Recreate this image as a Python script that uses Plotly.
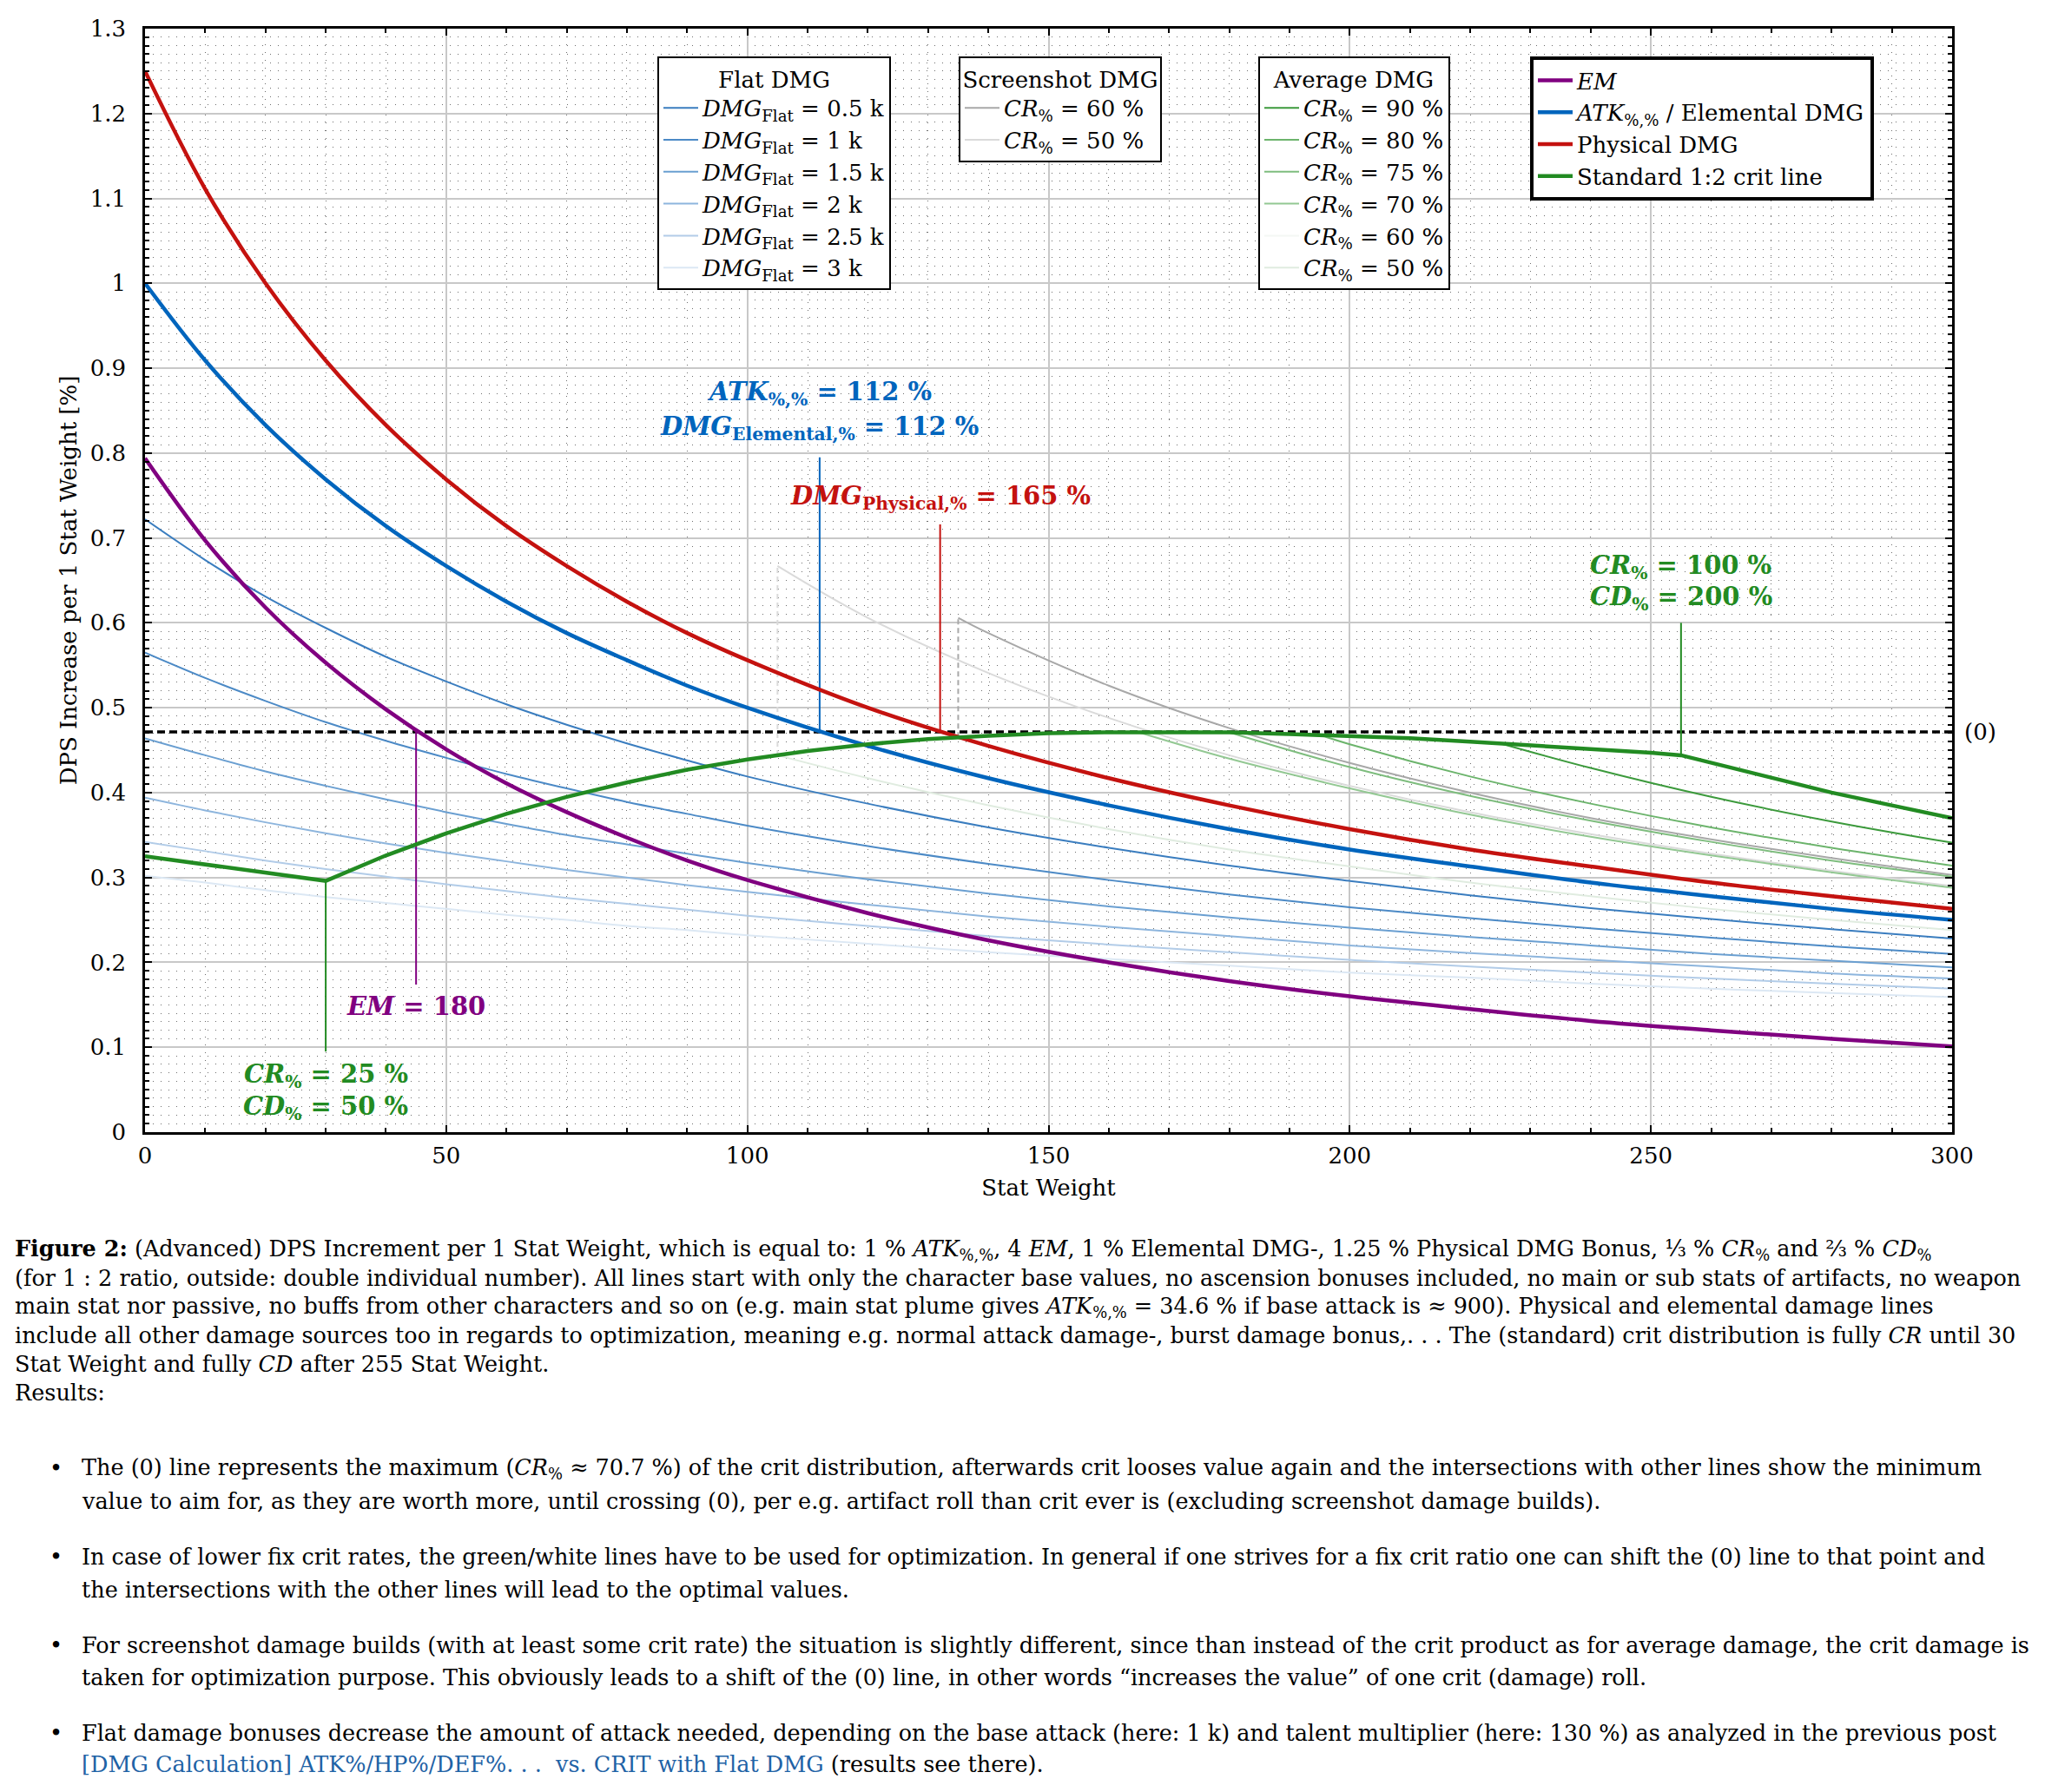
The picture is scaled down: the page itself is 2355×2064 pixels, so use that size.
import plotly.graph_objects as go

FONT = "DejaVu Serif"

# ---------------- data ----------------
stat_weight = [0, 10, 20, 30, 40, 50, 60, 70, 80, 90, 100, 120, 140, 160, 180, 200, 220, 240, 260, 280, 300]

em_vals = [0.794, 0.697, 0.618, 0.553, 0.498, 0.451, 0.411, 0.377, 0.347, 0.320, 0.297,
           0.258, 0.226, 0.200, 0.178, 0.160, 0.145, 0.131, 0.120, 0.110, 0.101]
atk_vals = [1.000, 0.909, 0.833, 0.769, 0.714, 0.667, 0.625, 0.588, 0.556, 0.526, 0.500,
            0.455, 0.417, 0.385, 0.357, 0.333, 0.313, 0.294, 0.278, 0.263, 0.250]
phys_vals = [1.250, 1.111, 1.000, 0.909, 0.833, 0.769, 0.714, 0.667, 0.625, 0.588, 0.556,
             0.500, 0.455, 0.417, 0.385, 0.357, 0.333, 0.313, 0.294, 0.278, 0.263]

flat_05k = [0.722, 0.674, 0.631, 0.594, 0.560, 0.531, 0.504, 0.480, 0.458, 0.438, 0.419,
            0.387, 0.359, 0.335, 0.314, 0.296, 0.279, 0.264, 0.251, 0.239, 0.228]
flat_1k = [0.565, 0.535, 0.508, 0.483, 0.461, 0.441, 0.422, 0.405, 0.389, 0.375, 0.361,
           0.337, 0.316, 0.297, 0.280, 0.265, 0.252, 0.240, 0.229, 0.219, 0.210]
flat_15k = [0.464, 0.444, 0.425, 0.408, 0.392, 0.377, 0.363, 0.350, 0.339, 0.328, 0.317,
            0.298, 0.281, 0.266, 0.253, 0.241, 0.230, 0.220, 0.210, 0.202, 0.194]
flat_2k = [0.394, 0.379, 0.365, 0.352, 0.340, 0.329, 0.319, 0.309, 0.300, 0.291, 0.283,
           0.268, 0.254, 0.242, 0.231, 0.220, 0.211, 0.203, 0.195, 0.187, 0.181]
flat_25k = [0.342, 0.331, 0.320, 0.310, 0.301, 0.292, 0.284, 0.276, 0.269, 0.262, 0.255,
            0.243, 0.231, 0.221, 0.212, 0.203, 0.195, 0.188, 0.181, 0.175, 0.169]
flat_3k = [0.302, 0.294, 0.285, 0.277, 0.270, 0.263, 0.256, 0.250, 0.243, 0.238, 0.232,
           0.222, 0.212, 0.204, 0.196, 0.188, 0.182, 0.175, 0.169, 0.164, 0.159]

crit_x = [0, 10, 20, 30, 40, 50, 60, 70, 80, 90, 100, 110, 120, 130, 140, 150, 160, 170, 180,
          190, 200, 210, 220, 230, 240, 250, 255, 260, 270, 280, 290, 300]
crit_vals = [0.325, 0.315, 0.305, 0.296, 0.326, 0.352, 0.375, 0.395, 0.412, 0.427, 0.439,
             0.449, 0.457, 0.463, 0.467, 0.470, 0.471, 0.471, 0.471, 0.469, 0.467, 0.464,
             0.460, 0.456, 0.452, 0.447, 0.444, 0.435, 0.417, 0.400, 0.385, 0.370]

zero_line = 0.4714

avg_cr90_x = [225, 240, 260, 280, 300]
avg_cr90 = [0.458, 0.429, 0.395, 0.366, 0.341]
avg_cr80_x = [195, 200, 220, 240, 260, 280, 300]
avg_cr80 = [0.468, 0.457, 0.419, 0.387, 0.359, 0.335, 0.314]
avg_cr75_x = [180, 200, 220, 240, 260, 280, 300]
avg_cr75 = [0.471, 0.430, 0.396, 0.367, 0.342, 0.320, 0.301]
avg_cr70_x = [165, 180, 200, 220, 240, 260, 280, 300]
avg_cr70 = [0.471, 0.440, 0.405, 0.374, 0.348, 0.326, 0.306, 0.288]
avg_cr60_x = [135, 140, 160, 180, 200, 220, 240, 260, 280, 300]
avg_cr60 = [0.465, 0.455, 0.417, 0.385, 0.357, 0.333, 0.313, 0.294, 0.278, 0.263]
avg_cr50_x = [105, 120, 140, 160, 180, 200, 220, 240, 260, 280, 300]
avg_cr50 = [0.444, 0.417, 0.385, 0.357, 0.333, 0.313, 0.294, 0.278, 0.263, 0.250, 0.238]

scr_cr60_x = [135, 140, 160, 180, 200, 220, 240, 260, 280, 300]
scr_cr60 = [0.606, 0.588, 0.526, 0.476, 0.435, 0.400, 0.370, 0.345, 0.323, 0.303]
scr_cr50_x = [105, 120, 140, 160, 180, 200, 220, 240, 260, 280, 300]
scr_cr50 = [0.667, 0.606, 0.541, 0.488, 0.444, 0.408, 0.377, 0.351, 0.328, 0.308, 0.290]
scr_cr60_link = [0.465, 0.606]
scr_cr50_link = [0.444, 0.667]

# vertical marker lines: x, from, to
marker_x = [112, 132, 45, 30, 255]
marker_from = [0.471, 0.471, 0.474, 0.296, 0.444]
marker_to = [0.795, 0.716, 0.174, 0.095, 0.600]

C_EM = "#800080"
C_ATK = "#0065BD"
C_PHYS = "#C4120F"
C_CRIT = "#228B22"
marker_colors = [C_ATK, C_PHYS, C_EM, C_CRIT, C_CRIT]

fig = go.Figure()

def add(x, y, name, color, width, legend, shape="spline", dash="solid", show=True):
    fig.add_trace(go.Scatter(
        x=x, y=y, mode="lines", name=name, legend=legend, showlegend=show,
        line=dict(color=color, width=width, shape=shape, dash=dash),
        hoverinfo="skip"))

FL = "<i>DMG</i><sub>Flat</sub> = "
flat_sets = [(flat_05k, "0.5 k", "#3A7DBF"), (flat_1k, "1 k", "#4C8AC6"),
             (flat_15k, "1.5 k", "#6A9FD1"), (flat_2k, "2 k", "#8DB5DD"),
             (flat_25k, "2.5 k", "#B2CCE8"), (flat_3k, "3 k", "#DCE8F4")]
for vals, lab, col in flat_sets:
    add(stat_weight, vals, FL + lab, col, 2, "legend")

CR = "<i>CR</i><sub>%</sub> = "
add(scr_cr60_x, scr_cr60, CR + "60 %", "#A8A8A8", 2, "legend2")
add(scr_cr50_x, scr_cr50, CR + "50 %", "#DADADA", 2, "legend2")
add([scr_cr60_x[0]] * 2, scr_cr60_link, "", "#A8A8A8", 2, "legend2", "linear", "6px,4px", False)
add([scr_cr50_x[0]] * 2, scr_cr50_link, "", "#DADADA", 2, "legend2", "linear", "6px,4px", False)

avg_sets = [(avg_cr90_x, avg_cr90, "90 %", "#3C9A3C"), (avg_cr80_x, avg_cr80, "80 %", "#6CB46C"),
            (avg_cr75_x, avg_cr75, "75 %", "#7EBD7E"), (avg_cr70_x, avg_cr70, "70 %", "#93C893"),
            (avg_cr60_x, avg_cr60, "60 %", "#F4F7F4"), (avg_cr50_x, avg_cr50, "50 %", "#E0ECE0")]
for xs, vals, lab, col in avg_sets:
    add(xs, vals, CR + lab, col, 2, "legend3")

# (0) line
add([0, 300], [zero_line, zero_line], "", "black", 3.5, "legend4", "linear", "9px,5px", False)

for mx, m0, m1, mc in zip(marker_x, marker_from, marker_to, marker_colors):
    add([mx, mx], [m0, m1], "", mc, 2, "legend4", "linear", "solid", False)

add(stat_weight, em_vals, "<i>EM</i>", C_EM, 4.5, "legend4")
add(stat_weight, atk_vals, "<i>ATK</i><sub>%,%</sub> / Elemental DMG", C_ATK, 4.5, "legend4")
add(stat_weight, phys_vals, "Physical DMG", C_PHYS, 4.5, "legend4")
add(crit_x, crit_vals, "Standard 1:2 crit line", C_CRIT, 4.5, "legend4", "linear")

# ---------------- annotations ----------------
ann = []
def lab(x, y, text, color, size=29):
    ann.append(dict(x=x, y=y, xref="x", yref="y", text=text, showarrow=False,
                    font=dict(family=FONT, size=size, color=color), xanchor="center", yanchor="middle"))

lab(112, 0.870, "<b><i>ATK</i><sub>%,%</sub> = 112 %</b>", C_ATK)
lab(112, 0.830, "<b><i>DMG</i><sub>Elemental,%</sub> = 112 %</b>", C_ATK)
lab(132, 0.748, "<b><i>DMG</i><sub>Physical,%</sub> = 165 %</b>", C_PHYS)
lab(45, 0.148, "<b><i>EM</i> = 180</b>", C_EM)
lab(30, 0.066, "<b><i>CR</i><sub>%</sub> = 25 %</b>", C_CRIT)
lab(30, 0.029, "<b><i>CD</i><sub>%</sub> = 50 %</b>", C_CRIT)
lab(255, 0.666, "<b><i>CR</i><sub>%</sub> = 100 %</b>", C_CRIT)
lab(255, 0.629, "<b><i>CD</i><sub>%</sub> = 200 %</b>", C_CRIT)

ann.append(dict(x=1.006, y=zero_line, xref="paper", yref="y", text="(0)", showarrow=False,
                xanchor="left", yanchor="middle", font=dict(family=FONT, size=26, color="black")))

L, T, W, H = 167, 33, 2081, 1271
def px(xp): return (xp - L) / W
def py(yp): return (T + H - yp) / H

CAP = 25.5
caption = [
    (15, 1439, "<b>Figure 2:</b> (Advanced) DPS Increment per 1 Stat Weight, which is equal to: 1 % <i>ATK</i><sub>%,%</sub>, 4 <i>EM</i>, 1 % Elemental DMG-, 1.25 % Physical DMG Bonus, ⅓ % <i>CR</i><sub>%</sub> and ⅔ % <i>CD</i><sub>%</sub>"),
    (15, 1472, "(for 1 : 2 ratio, outside: double individual number). All lines start with only the character base values, no ascension bonuses included, no main or sub stats of artifacts, no weapon"),
    (15, 1505, "main stat nor passive, no buffs from other characters and so on (e.g. main stat plume gives <i>ATK</i><sub>%,%</sub> = 34.6 % if base attack is ≈ 900). Physical and elemental damage lines"),
    (15, 1538, "include all other damage sources too in regards to optimization, meaning e.g. normal attack damage-, burst damage bonus,. . . The (standard) crit distribution is fully <i>CR</i> until 30"),
    (15, 1571, "Stat Weight and fully <i>CD</i> after 255 Stat Weight."),
    (15, 1604, "Results:"),
    (92, 1691, "The (0) line represents the maximum (<i>CR</i><sub>%</sub> ≈ 70.7 %) of the crit distribution, afterwards crit looses value again and the intersections with other lines show the minimum"),
    (92, 1729, "value to aim for, as they are worth more, until crossing (0), per e.g. artifact roll than crit ever is (excluding screenshot damage builds)."),
    (92, 1793, "In case of lower fix crit rates, the green/white lines have to be used for optimization. In general if one strives for a fix crit ratio one can shift the (0) line to that point and"),
    (92, 1831, "the intersections with the other lines will lead to the optimal values."),
    (92, 1895, "For screenshot damage builds (with at least some crit rate) the situation is slightly different, since than instead of the crit product as for average damage, the crit damage is"),
    (92, 1932, "taken for optimization purpose. This obviously leads to a shift of the (0) line, in other words “increases the value” of one crit (damage) roll."),
    (92, 1996, "Flat damage bonuses decrease the amount of attack needed, depending on the base attack (here: 1 k) and talent multiplier (here: 130 %) as analyzed in the previous post"),
    (92, 2032, "<span style='color:#1F63A6'>[DMG Calculation] ATK%/HP%/DEF%. . .  vs. CRIT with Flat DMG</span> (results see there)."),
]
for xp, yp, t in caption:
    ann.append(dict(x=px(xp), y=py(yp), xref="paper", yref="paper", text=t, showarrow=False,
                    xanchor="left", yanchor="middle", align="left",
                    font=dict(family=FONT, size=CAP, color="black")))
for yp in [1691, 1793, 1895, 1996]:
    ann.append(dict(x=px(55), y=py(yp), xref="paper", yref="paper", text="•", showarrow=False,
                    xanchor="left", yanchor="middle", font=dict(family=FONT, size=CAP, color="black")))

legend_common = dict(yanchor="top", xanchor="left", bgcolor="white", bordercolor="black",
                     font=dict(family=FONT, size=26, color="black"), tracegroupgap=0,
                     itemwidth=40, traceorder="normal")
TFONT = dict(family=FONT, size=26)

fig.update_layout(
    width=2355, height=2064, autosize=False,
    margin=dict(l=L, r=2355 - L - W, t=T, b=2064 - T - H),
    paper_bgcolor="white", plot_bgcolor="white",
    font=dict(family=FONT, size=26, color="black"),
    annotations=ann,
    legend=dict(x=px(757), y=py(65), borderwidth=2,
                title=dict(text="Flat DMG", side="top center", font=TFONT), **legend_common),
    legend2=dict(x=px(1104), y=py(65), borderwidth=2,
                 title=dict(text="Screenshot DMG", side="top center", font=TFONT), **legend_common),
    legend3=dict(x=px(1449), y=py(65), borderwidth=2,
                 title=dict(text="Average DMG", side="top center", font=TFONT), **legend_common),
    legend4=dict(x=px(1762), y=py(65), borderwidth=4, **legend_common),
    xaxis=dict(range=[0, 300], dtick=50, tick0=0, showgrid=True, gridcolor="#C8C8C8", gridwidth=1.5,
               zeroline=False, showline=True, linecolor="black", linewidth=2.5, mirror="allticks",
               ticks="inside", ticklen=8, tickcolor="black", tickwidth=1.5,
               tickfont=dict(family=FONT, size=26), ticklabelstandoff=2,
               title=dict(text="Stat Weight", font=dict(family=FONT, size=26), standoff=14),
               minor=dict(dtick=10, showgrid=True, gridcolor="#6E6E6E", gridwidth=1.3,
                          griddash="1.3px,7.7px", ticks="inside", ticklen=5, tickcolor="black")),
    yaxis=dict(range=[0, 1.3], dtick=0.1, tick0=0, showgrid=True, gridcolor="#C8C8C8", gridwidth=1.5,
               zeroline=False, showline=True, linecolor="black", linewidth=2.5, mirror="allticks",
               ticks="inside", ticklen=8, tickcolor="black", tickwidth=1.5,
               tickfont=dict(family=FONT, size=26), ticklabelstandoff=14,
               title=dict(text="DPS Increase per 1 Stat Weight [%]", font=dict(family=FONT, size=26), standoff=8),
               minor=dict(dtick=0.01, showgrid=True, gridcolor="#6E6E6E", gridwidth=1.3,
                          griddash="1.3px,7.7px", ticks="inside", ticklen=5, tickcolor="black")),
)

fig.write_html("out.html")
